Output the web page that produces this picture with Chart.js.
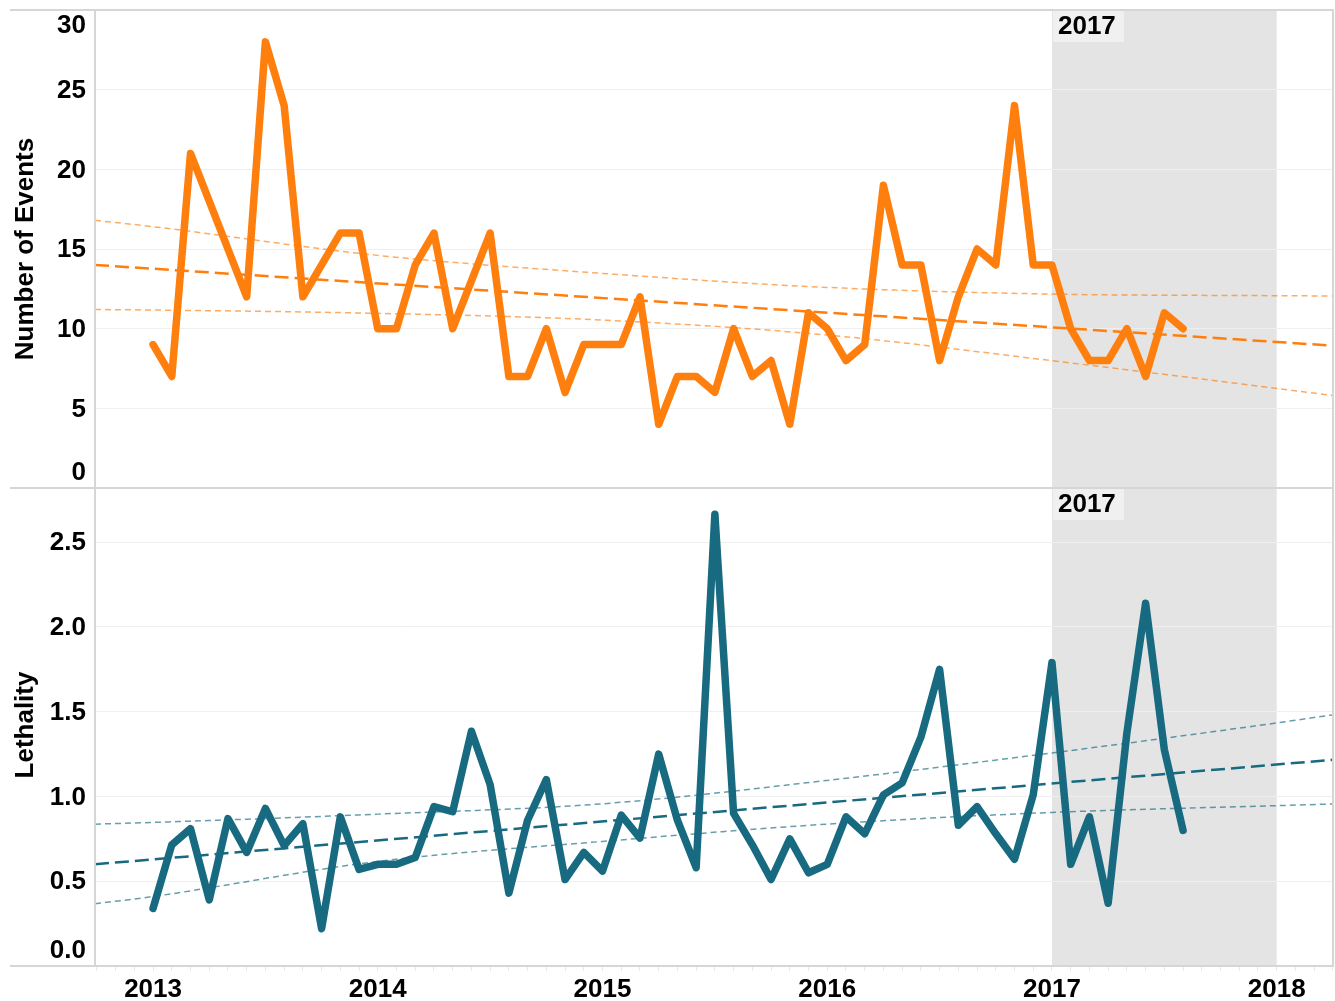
<!DOCTYPE html>
<html><head><meta charset="utf-8">
<script src="https://cdn.jsdelivr.net/npm/chart.js@4.4.1/dist/chart.umd.min.js"></script>
<style>html,body{margin:0;padding:0;background:#fff;}#wrap{position:relative;width:1335px;height:1001px;}</style>
</head><body><div id="wrap"><canvas id="c" width="1335" height="1001"></canvas></div>
<script>
// Monthly series, Jan 2013 .. Aug 2017 (index 0 = Jan 2013)
const events = [9,7,21,18,15,12,28,24,12,14,16,16, 10,10,14,16,10,13,16,7,7,10,6,9, 9,9,12,4,7,7,6,10,7,8,4,11, 10,8,9,19,14,14,8,12,15,14,24,14, 14,10,8,8,10,7,11,10];
const lethality = [0.34,0.715,0.81,0.39,0.87,0.67,0.93,0.71,0.84,0.22,0.88,0.57, 0.60,0.60,0.64,0.94,0.91,1.385,1.07,0.43,0.86,1.10,0.51,0.67, 0.56,0.89,0.755,1.25,0.86,0.58,2.665,0.90,0.715,0.51,0.75,0.55, 0.60,0.88,0.78,1.01,1.08,1.35,1.75,0.83,0.94,0.78,0.63,1.01, 1.79,0.60,0.88,0.37,1.375,2.14,1.277,0.80];
// axis range in month index
const xRange = [-3.1, 63.06];
// trend lines (values at the two axis ends)
const eventsTrend = [14.0, 8.93];
const lethTrend = [0.60, 1.217];
// confidence bands read at these month positions
const bandX = [-3.1, 0, 12, 24, 36, 48, 60, 63.06];
const eventsUpper = [16.8, 16.4, 14.6, 13.47, 12.59, 12.17, 12.07, 12.05];
const eventsLower = [11.2, 11.17, 10.96, 10.54, 9.6, 7.99, 6.25, 5.8];
const lethUpper = [0.837, 0.847, 0.896, 0.957, 1.095, 1.257, 1.434, 1.483];
const lethLower = [0.367, 0.41, 0.617, 0.735, 0.837, 0.906, 0.946, 0.956];
// ticks
const yearTicks = ['2013','2014','2015','2016','2017','2018'];
const eventsTicks = ['0','5','10','15','20','25','30'];
const lethTicks = ['0.0','0.5','1.0','1.5','2.0','2.5'];
const highlightYear = '2017';
const highlightRange = [48, 60];

const ORANGE = '#ff7f0e', ORANGE_L = 'rgba(255,127,14,0.65)';
const TEAL = '#176a80', TEAL_L = 'rgba(23,106,128,0.65)';
const FONT = "bold 26px 'Liberation Sans', Arial, sans-serif";

const pts = arr => arr.map((v,i)=>({x:i,y:v}));
const ends = arr => [{x:xRange[0],y:arr[0]},{x:xRange[1],y:arr[1]}];
const band = arr => arr.map((v,i)=>({x:bandX[i],y:v}));

const deco = {
  id:'deco',
  beforeDraw(chart){
    const {ctx, chartArea:a, scales} = chart;
    const x0 = scales.x.getPixelForValue(highlightRange[0]);
    const x1 = scales.x.getPixelForValue(highlightRange[1]);
    ctx.save();
    ctx.fillStyle = '#e4e4e4';
    ctx.fillRect(x0, a.top, x1-x0, a.bottom-a.top);
    ctx.restore();
  },
  beforeDatasetsDraw(chart){
    const {ctx, scales} = chart;
    const x0 = scales.x.getPixelForValue(highlightRange[0]);
    ctx.save();
    ctx.font = FONT;
    [scales.yN, scales.yL].forEach(s=>{
      ctx.fillStyle = '#f0f0f0';
      ctx.fillRect(x0+1, s.top+1, 71, 31);
      ctx.fillStyle = '#000';
      ctx.textAlign = 'left'; ctx.textBaseline = 'middle';
      ctx.fillText(highlightYear, x0+6, s.top+17);
    });
    ctx.restore();
  },
  afterDraw(chart){
    const {ctx, chartArea:a, scales} = chart;
    ctx.save();
    // borders
    ctx.strokeStyle = '#d6d6d6'; ctx.lineWidth = 2;
    ctx.beginPath();
    [a.top, scales.yN.bottom, a.bottom].forEach(y=>{ctx.moveTo(10,y); ctx.lineTo(a.right,y);});
    ctx.moveTo(a.left, a.top); ctx.lineTo(a.left, a.bottom);
    ctx.moveTo(a.right-1, a.top); ctx.lineTo(a.right-1, a.bottom);
    ctx.stroke();
    // y tick labels
    ctx.font = FONT; ctx.fillStyle = '#000';
    ctx.textAlign = 'right'; ctx.textBaseline = 'middle';
    const yt = (s, labels) => labels.forEach(l=>{
      let p = s.getPixelForValue(parseFloat(l));
      p = Math.min(Math.max(p, s.top+15), s.bottom-16);
      ctx.fillText(l, 86, p+1);
    });
    yt(scales.yN, eventsTicks);
    yt(scales.yL, lethTicks);
    // x tick labels
    ctx.textAlign = 'center';
    yearTicks.forEach((l,k)=>{
      ctx.fillText(l, scales.x.getPixelForValue(k*12), 990);
    });
    // axis titles
    ctx.textBaseline = 'alphabetic';
    const title = (t, cy) => {
      ctx.save(); ctx.translate(33, cy); ctx.rotate(-Math.PI/2);
      ctx.fillText(t, 0, 0); ctx.restore();
    };
    title('Number of Events', (scales.yN.top+scales.yN.bottom)/2);
    title('Lethality', (scales.yL.top+scales.yL.bottom)/2 - 2);
    ctx.restore();
  }
};

const trendDs = (data, axis, color) => ({data, yAxisID:axis, borderColor:color, borderWidth:2.5, borderDash:[14,6], pointRadius:0, tension:0, fill:false});
const bandDs = (data, axis, color) => ({data, yAxisID:axis, borderColor:color, borderWidth:1.5, borderDash:[6,4], pointRadius:0, cubicInterpolationMode:'monotone', fill:false});
const mainDs = (data, axis, color) => ({data, yAxisID:axis, borderColor:color, borderWidth:7.5, pointRadius:0, tension:0, borderJoinStyle:'round', borderCapStyle:'round', fill:false});

new Chart(document.getElementById('c'), {
  type:'line',
  data:{datasets:[
    trendDs(ends(eventsTrend),'yN',ORANGE),
    bandDs(band(eventsUpper),'yN',ORANGE_L),
    bandDs(band(eventsLower),'yN',ORANGE_L),
    trendDs(ends(lethTrend),'yL',TEAL),
    bandDs(band(lethUpper),'yL',TEAL_L),
    bandDs(band(lethLower),'yL',TEAL_L),
    mainDs(pts(events),'yN',ORANGE),
    mainDs(pts(lethality),'yL',TEAL)
  ]},
  options:{
    responsive:false, animation:false, devicePixelRatio:1,
    layout:{padding:{top:10,right:1,left:0,bottom:0}},
    plugins:{legend:{display:false}, tooltip:{enabled:false}},
    scales:{
      x:{type:'linear', position:'bottom', min:xRange[0], max:xRange[1],
         ticks:{stepSize:1, autoSkip:false, includeBounds:false, display:false},
         grid:{drawOnChartArea:false, drawTicks:true, tickLength:5, color:'#e8e8e8'},
         border:{display:false},
         afterFit(s){s.height=35;}},
      yL:{type:'linear', position:'left', stack:'panels', stackWeight:1, min:0, max:2.82,
         ticks:{stepSize:0.5, includeBounds:false, display:false},
         grid:{color:'#efefef', drawTicks:false}, border:{display:false},
         afterFit(s){s.width=95;}},
      yN:{type:'linear', position:'left', stack:'panels', stackWeight:1, min:0, max:30,
         ticks:{stepSize:5, includeBounds:false, display:false},
         grid:{color:'#efefef', drawTicks:false}, border:{display:false},
         afterFit(s){s.width=95;}}
    }
  },
  plugins:[deco]
});
</script></body></html>
